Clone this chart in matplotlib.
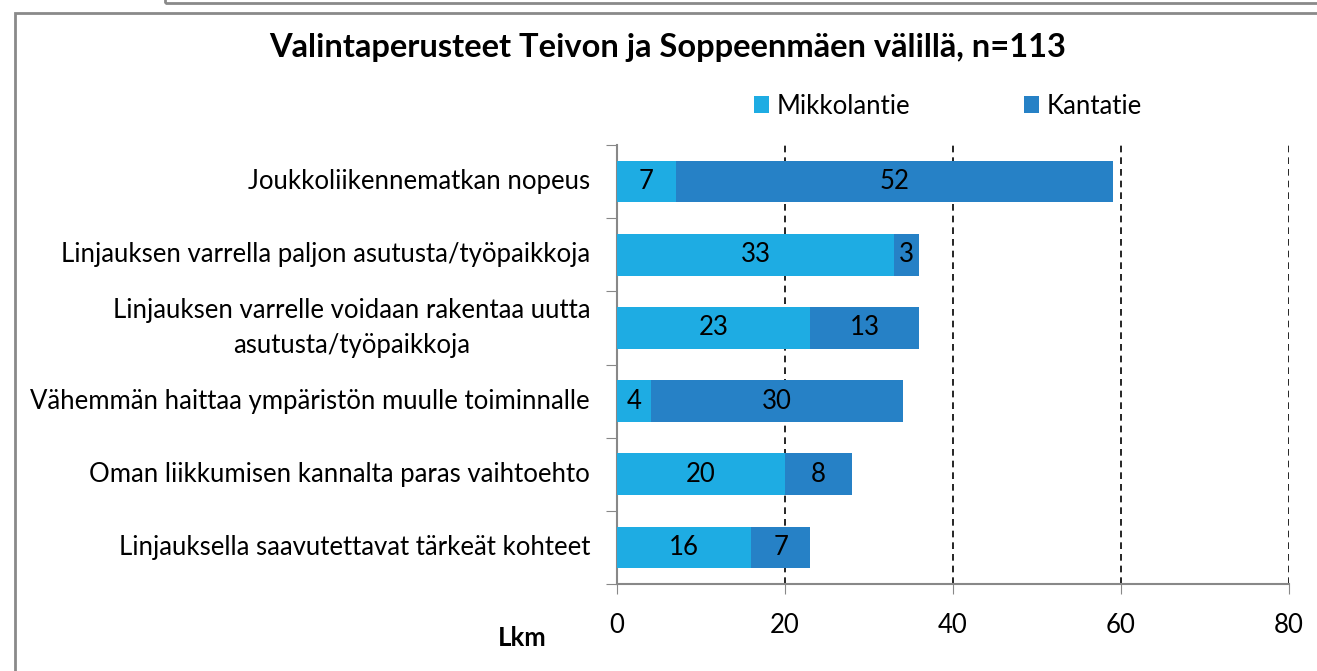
import matplotlib.pyplot as plt
from matplotlib.patches import Rectangle
import numpy as np

plt.rcParams['font.family'] = ['Lato', 'DejaVu Sans']

categories = ['Joukkoliikennematkan nopeus',
              'Linjauksen varrella paljon asutusta/työpaikkoja',
              'Linjauksen varrelle voidaan rakentaa uutta\nasutusta/työpaikkoja',
              'Vähemmän haittaa ympäristön muulle toiminnalle',
              'Oman liikkumisen kannalta paras vaihtoehto',
              'Linjauksella saavutettavat tärkeät kohteet']
mikkolantie = [7, 33, 23, 4, 20, 16]
kantatie = [52, 3, 13, 30, 8, 7]
series_names = ['Mikkolantie', 'Kantatie']
xticks = [0, 20, 40, 60, 80]

c_light = '#1EACE3'
c_dark = '#2681C6'
fs = 18.5

fig = plt.figure(figsize=(13.17, 6.71), dpi=100)
W, H = 1317, 671
ax = fig.add_axes([617 / W, 1 - 584 / H, (1289 - 617) / W, (584 - 145) / H])

y = np.arange(len(categories))
b1 = ax.barh(y, mikkolantie, height=0.57, color=c_light, label=series_names[0], zorder=3)
b2 = ax.barh(y, kantatie, left=mikkolantie, height=0.57, color=c_dark, label=series_names[1], zorder=3)
for bars in (b1, b2):
    ax.bar_label(bars, label_type='center', fontsize=fs, color='black')

ax.set_ylim(len(categories) - 0.5, -0.5)
ax.set_xlim(0, 80)
ax.set_xticks(xticks)
ax.set_xticklabels([str(v) for v in xticks], fontsize=fs)
ax.tick_params(axis='x', length=7, color='#888888', pad=14)
ax.set_yticks(np.arange(len(categories) + 1) - 0.5, minor=False)
ax.set_yticklabels([])
ax.tick_params(axis='y', length=8, color='#888888')
for i, cat in enumerate(categories):
    ax.text(-3.2, i, cat, ha='right', va='center', fontsize=fs, multialignment='center',
            linespacing=1.5)

for v in xticks[1:]:
    ax.axvline(v, color='black', linestyle=(0, (4, 3)), linewidth=1.2, zorder=1)

for s in ['top', 'right']:
    ax.spines[s].set_visible(False)
ax.spines['left'].set_color('#888888')
ax.spines['bottom'].set_color('#888888')
ax.spines['left'].set_linewidth(1.5)
ax.spines['bottom'].set_linewidth(1.5)

fig.text(668 / W, 1 - 48 / H, 'Valintaperusteet Teivon ja Soppeenmäen välillä, n=113',
         ha='center', va='center', fontsize=23.5, fontweight='bold')
fig.text(522 / W, 1 - 638 / H, 'Lkm', ha='center', va='center', fontsize=fs, fontweight='bold')

fig.legend(handles=[b1, b2], labels=series_names, loc='center', ncol=2,
           bbox_to_anchor=(948 / W, 1 - 106 / H), frameon=False, fontsize=fs,
           handlelength=0.6, handleheight=0.6, columnspacing=4.4, handletextpad=0.3)

# chart frame
fig.patches.append(Rectangle((15 / W, -0.05), 1.2, 1 - 13 / H + 0.05, transform=fig.transFigure,
                             fill=False, edgecolor='#8a8a8a', linewidth=2))
fig.patches.append(Rectangle((165 / W, 1 - 3 / H), 1.2, 0.1, transform=fig.transFigure,
                             fill=False, edgecolor='#8a8a8a', linewidth=2))

fig.savefig('out.png', dpi=100)
